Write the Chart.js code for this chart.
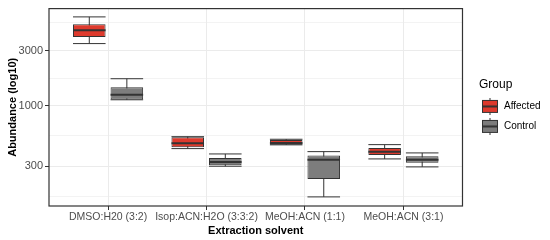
<!DOCTYPE html>
<html>
<head>
<meta charset="utf-8">
<script src="https://cdn.jsdelivr.net/npm/chart.js@4.4.1/dist/chart.umd.min.js"></script>
<style>
  body { margin: 0; background: #fff; }
  #wrap { width: 550px; height: 240px; }
</style>
</head>
<body>
<div id="wrap"><canvas id="myChart" width="550" height="240"></canvas></div>
<script>
//------data
const solvents = ['DMSO:H20 (3:2)', 'Isop:ACN:H2O (3:3:2)', 'MeOH:ACN (1:1)', 'MeOH:ACN (3:1)'];
const groups = ['Affected', 'Control'];
const yTicks = [300, 1000, 3000];

// five numbers per solvent: lower whisker, q1, median, q3, upper whisker
const affectedLow = [3440, 426, 459, 347];
const affectedQ1 = [3930, 437, 461, 376];
const affectedMed = [4490, 473, 477, 401];
const affectedQ3 = [5060, 533, 506, 432];
const affectedHigh = [5850, 540, 513, 461];

const controlLow = [1125, 300, 163, 296];
const controlQ1 = [1133, 306, 233, 321];
const controlMed = [1245, 327, 342, 342];
const controlQ3 = [1440, 354, 371, 366];
const controlHigh = [1710, 383, 401, 391];

const fills = ['#de3a2d', '#7d7d7d'];
const outline = '#333333';

//------build the box glyph used in the legend
function keyGlyph(fill) {
  const c = document.createElement('canvas');
  c.width = 18; c.height = 17;
  const g = c.getContext('2d');
  g.strokeStyle = outline;
  g.lineWidth = 1;
  g.beginPath(); g.moveTo(9, 0); g.lineTo(9, 17); g.stroke();
  g.fillStyle = fill;
  g.fillRect(1.5, 2.5, 15, 12);
  g.strokeRect(1.5, 2.5, 15, 12);
  g.lineWidth = 2;
  g.beginPath(); g.moveTo(1.5, 8.5); g.lineTo(16.5, 8.5); g.stroke();
  return c;
}

const sets = [
  { low: affectedLow, q1: affectedQ1, med: affectedMed, q3: affectedQ3, high: affectedHigh },
  { low: controlLow, q1: controlQ1, med: controlMed, q3: controlQ3, high: controlHigh }
];

//------whiskers, caps and medians drawn round the floating bars
const boxPlugin = {
  id: 'boxWhiskers',
  afterLayout(chart) {
    // ggplot leaves a gap between the panel and the legend
    const lg = chart.legend;
    const shift = 479 - lg.left;
    lg.left += shift;
    lg.right += shift;
  },
  beforeDatasetsDraw(chart) {
    const ctx = chart.ctx;
    const y = chart.scales.y;
    ctx.save();
    ctx.strokeStyle = outline;
    ctx.lineWidth = 1;
    sets.forEach((s, di) => {
      const meta = chart.getDatasetMeta(di);
      meta.data.forEach((bar, i) => {
        const half = bar.width / 2;
        const yHi = y.getPixelForValue(s.high[i]);
        const yLo = y.getPixelForValue(s.low[i]);
        ctx.beginPath();
        ctx.moveTo(bar.x, yHi); ctx.lineTo(bar.x, yLo);
        ctx.moveTo(bar.x - half, yHi); ctx.lineTo(bar.x + half, yHi);
        ctx.moveTo(bar.x - half, yLo); ctx.lineTo(bar.x + half, yLo);
        ctx.stroke();
      });
    });
    ctx.restore();
  },
  afterDatasetsDraw(chart) {
    const ctx = chart.ctx;
    const y = chart.scales.y;
    ctx.save();
    ctx.strokeStyle = outline;
    ctx.lineWidth = 2;
    sets.forEach((s, di) => {
      const meta = chart.getDatasetMeta(di);
      meta.data.forEach((bar, i) => {
        const half = bar.width / 2;
        const yM = y.getPixelForValue(s.med[i]);
        ctx.beginPath();
        ctx.moveTo(bar.x - half, yM); ctx.lineTo(bar.x + half, yM);
        ctx.stroke();
      });
    });
    // panel border
    const a = chart.chartArea;
    ctx.lineWidth = 1.2;
    ctx.strokeStyle = '#333333';
    ctx.strokeRect(a.left, a.top, a.right - a.left, a.bottom - a.top);
    ctx.restore();
  }
};

Chart.defaults.font.family = "'Liberation Sans', Arial, sans-serif";
Chart.defaults.color = '#4d4d4d';

// minor grid lines sit half way between the labelled ticks (log space)
const yGrid = [yTicks[0] / Math.sqrt(yTicks[1] / yTicks[0])];
yTicks.forEach((t, i) => {
  yGrid.push(t);
  const next = i < yTicks.length - 1 ? yTicks[i + 1] : t * (t / yTicks[i - 1]);
  yGrid.push(Math.sqrt(t * next));
});

const ctx = document.getElementById('myChart');

new Chart(ctx, {
  type: 'bar',
  data: {
    datasets: groups.map((gname, di) => ({
      label: gname,
      data: solvents.map((s, i) => ({ x: i + 1, y: [sets[di].q1[i], sets[di].q3[i]] })),
      backgroundColor: fills[di],
      borderColor: outline,
      borderWidth: 1,
      borderSkipped: false,
      categoryPercentage: 0.763,
      barPercentage: 0.867,
      pointStyle: keyGlyph(fills[di])
    }))
  },
  options: {
    responsive: false,
    animation: false,
    layout: { padding: { top: 8, left: 0, right: 16, bottom: 0 } },
    scales: {
      x: {
        type: 'linear',
        offset: false,
        min: 0.4,
        max: 4.6,
        afterBuildTicks: (scale) => {
          scale.ticks = solvents.map((s, i) => ({ value: i + 1 }));
        },
        afterFit: (scale) => { scale.height = 34; },
        ticks: {
          callback: (v) => solvents[v - 1],
          font: { size: 10.5 },
          color: '#4d4d4d',
          padding: 1,
          maxRotation: 0,
          autoSkip: false
        },
        grid: { offset: false, color: '#ebebeb', lineWidth: 1, tickColor: '#333333', tickLength: 4 },
        border: { display: false },
        title: { display: true, text: 'Extraction solvent', color: '#000', font: { size: 11, weight: 'bold' }, padding: { top: 0, bottom: 2 } }
      },
      y: {
        type: 'logarithmic',
        min: 136,
        max: 6900,
        afterBuildTicks: (scale) => {
          scale.ticks = yGrid.map(v => ({ value: v, major: yTicks.includes(v) }));
        },
        afterFit: (scale) => { scale.width = 49; },
        ticks: {
          callback: (v) => (yTicks.includes(v) ? String(v) : ''),
          font: { size: 11 },
          color: '#4d4d4d',
          padding: 2,
          autoSkip: false
        },
        grid: {
          color: '#ebebeb',
          lineWidth: (c) => (c.tick && c.tick.major ? 1 : 0.6),
          tickColor: (c) => (c.tick && c.tick.major ? '#333333' : 'rgba(0,0,0,0)'),
          tickLength: 4
        },
        border: { display: false },
        title: { display: true, text: 'Abundance (log10)', color: '#000', font: { size: 11, weight: 'bold' }, padding: { top: 6, bottom: 0 } }
      }
    },
    plugins: {
      tooltip: { enabled: false },
      legend: {
        position: 'right',
        align: 'start',
        title: { display: true, position: 'start', text: 'Group', color: '#000', font: { size: 12 }, padding: { top: 71, bottom: 6 } },
        labels: {
          usePointStyle: true,
          pointStyleWidth: 18,
          boxHeight: 17,
          color: '#000',
          font: { size: 10, lineHeight: 1.8 },
          padding: 2,
          // one-line arrays so each row takes the font line height
          generateLabels: (chart) => Chart.defaults.plugins.legend.labels.generateLabels(chart)
            .map(item => Object.assign(item, { text: [item.text] }))
        }
      }
    }
  },
  plugins: [boxPlugin]
});
</script>
</body>
</html>
